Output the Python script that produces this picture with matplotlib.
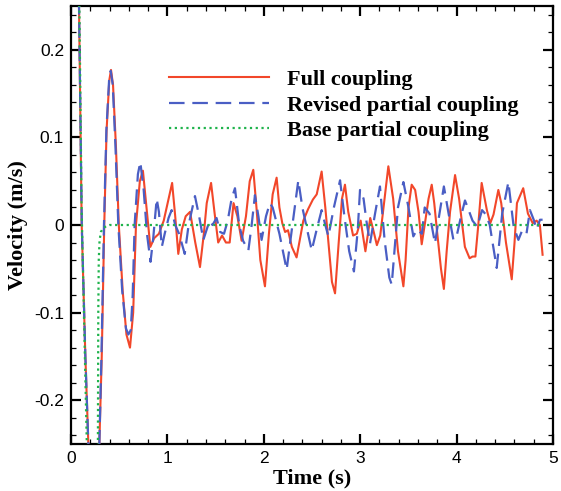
import matplotlib
matplotlib.use("Agg")
import matplotlib.pyplot as plt
from matplotlib.ticker import MultipleLocator, FixedLocator, FixedFormatter

plt.rcParams['axes.unicode_minus'] = False

# ---- data ----
t_full = [0.000, 0.040, 0.083, 0.111, 0.149, 0.180, 0.208, 0.238, 0.263, 0.294,
          0.319, 0.345, 0.369, 0.397, 0.415, 0.436, 0.466, 0.496, 0.536, 0.575,
          0.612, 0.645, 0.674, 0.714, 0.746, 0.783, 0.823, 0.863, 0.912, 0.962,
          1.012, 1.049, 1.081, 1.113, 1.150, 1.190, 1.235, 1.289, 1.338, 1.378,
          1.408, 1.453, 1.488, 1.527, 1.567, 1.607, 1.646, 1.686, 1.726, 1.770,
          1.815, 1.854, 1.891, 1.924, 1.964, 2.012, 2.053, 2.092, 2.133, 2.162,
          2.192, 2.221, 2.251, 2.291, 2.340, 2.410, 2.459, 2.509, 2.549, 2.600,
          2.638, 2.678, 2.707, 2.739, 2.777, 2.811, 2.842, 2.876, 2.926, 2.965,
          3.005, 3.054, 3.104, 3.134, 3.173, 3.208, 3.240, 3.292, 3.342, 3.392,
          3.448, 3.471, 3.501, 3.534, 3.570, 3.605, 3.638, 3.669, 3.709, 3.742,
          3.768, 3.798, 3.838, 3.868, 3.897, 3.932, 3.984, 4.026, 4.086, 4.135,
          4.165, 4.195, 4.225, 4.260, 4.314, 4.349, 4.383, 4.433, 4.463, 4.512,
          4.572, 4.601, 4.626, 4.691, 4.740, 4.790, 4.830, 4.864, 4.892]
v_full = [0.950, 0.620, 0.250, 0.000, -0.150, -0.250, -0.320, -0.330, -0.290, -0.250,
          -0.150, 0.000, 0.108, 0.165, 0.177, 0.160, 0.090, 0.000, -0.075, -0.125,
          -0.140, -0.100, 0.000, 0.050, 0.062, 0.020, -0.025, -0.015, -0.010, 0.005,
          0.030, 0.048, 0.010, -0.033, -0.005, 0.010, 0.015, -0.020, -0.048, -0.010,
          0.025, 0.048, 0.015, -0.020, -0.012, -0.020, -0.020, 0.025, 0.010, -0.018,
          0.010, 0.050, 0.063, 0.020, -0.040, -0.070, -0.010, 0.035, 0.054, 0.020,
          0.002, -0.008, -0.006, -0.025, -0.037, 0.005, 0.018, 0.029, 0.035, 0.061,
          0.020, -0.030, -0.065, -0.078, -0.020, 0.030, 0.046, 0.015, -0.012, -0.010,
          0.005, -0.030, 0.008, -0.005, -0.023, -0.012, 0.018, 0.067, 0.030, -0.030,
          -0.070, -0.040, 0.020, 0.046, 0.040, 0.015, -0.022, 0.000, 0.030, 0.046,
          0.025, -0.008, -0.050, -0.073, -0.030, 0.015, 0.057, 0.030, -0.025, -0.038,
          -0.036, -0.036, 0.000, 0.048, 0.017, 0.002, 0.012, 0.040, 0.025, -0.020,
          -0.062, -0.020, 0.025, 0.042, 0.013, 0.002, 0.005, 0.000, -0.034]

t_rev = [0.000, 0.040, 0.083, 0.112, 0.149, 0.180, 0.208, 0.238, 0.263, 0.294,
         0.315, 0.342, 0.367, 0.395, 0.412, 0.433, 0.461, 0.491, 0.531, 0.570,
         0.595, 0.620, 0.640, 0.660, 0.694, 0.719, 0.754, 0.788, 0.825, 0.853,
         0.889, 0.912, 0.942, 0.972, 1.012, 1.044, 1.081, 1.121, 1.180, 1.220,
         1.286, 1.329, 1.373, 1.408, 1.438, 1.468, 1.510, 1.547, 1.587, 1.626,
         1.666, 1.701, 1.745, 1.785, 1.840, 1.874, 1.908, 1.944, 1.977, 2.023,
         2.063, 2.092, 2.162, 2.237, 2.291, 2.358, 2.400, 2.459, 2.497, 2.549,
         2.600, 2.638, 2.670, 2.727, 2.791, 2.836, 2.886, 2.935, 2.975, 2.998,
         3.035, 3.064, 3.102, 3.154, 3.205, 3.253, 3.302, 3.327, 3.392, 3.448,
         3.501, 3.551, 3.590, 3.640, 3.669, 3.719, 3.776, 3.818, 3.868, 3.917,
         3.967, 4.006, 4.046, 4.087, 4.125, 4.165, 4.215, 4.264, 4.304, 4.344,
         4.373, 4.416, 4.473, 4.537, 4.592, 4.641, 4.681, 4.725, 4.761, 4.800,
         4.830, 4.865, 4.892]
v_rev = [0.950, 0.620, 0.250, 0.000, -0.150, -0.250, -0.320, -0.330, -0.290, -0.250,
         -0.154, 0.000, 0.108, 0.165, 0.176, 0.160, 0.090, 0.000, -0.075, -0.118,
         -0.125, -0.120, -0.080, 0.000, 0.058, 0.072, 0.040, -0.010, -0.042, -0.015,
         0.030, 0.015, -0.025, -0.010, 0.008, 0.017, 0.000, -0.010, -0.033, 0.000,
         0.033, 0.010, -0.017, -0.005, 0.005, 0.000, 0.008, -0.008, -0.010, 0.005,
         0.030, 0.042, 0.000, -0.018, -0.029, 0.000, 0.034, 0.010, -0.017, 0.010,
         0.025, 0.020, -0.010, -0.051, -0.005, 0.051, 0.020, -0.010, -0.029, -0.005,
         0.017, 0.000, -0.013, 0.020, 0.051, 0.010, -0.030, -0.053, -0.005, 0.040,
         0.030, 0.005, -0.021, 0.013, 0.044, -0.017, -0.060, -0.068, 0.020, 0.049,
         0.020, -0.013, -0.005, -0.010, 0.020, 0.013, -0.021, 0.010, 0.044, 0.013,
         -0.017, -0.010, 0.010, 0.028, 0.017, 0.005, -0.002, 0.017, 0.012, 0.000,
         -0.020, -0.049, 0.013, 0.049, -0.002, -0.017, -0.006, -0.010, 0.017, 0.006,
         -0.005, 0.006, 0.006]

t_base = [0.000, 0.050, 0.087, 0.110, 0.164, 0.200, 0.240, 0.265, 0.279, 0.283,
          0.288, 0.296, 0.310, 0.330, 0.370, 0.400, 4.892]
v_base = [0.900, 0.550, 0.250, 0.020, -0.250, -0.380, -0.400, -0.330, -0.250, -0.100,
          -0.040, -0.018, -0.008, -0.004, -0.001, 0.000, 0.000]

labels = ["Full coupling", "Revised partial coupling", "Base partial coupling"]
x_ticks = [0, 1, 2, 3, 4, 5]
y_ticks = [-0.2, -0.1, 0.0, 0.1, 0.2]
y_tick_labels = ["-0.2", "-0.1", "0", "0.1", "0.2"]

# ---- figure ----
fig = plt.figure(figsize=(5.61, 4.91), dpi=100)
ax = fig.add_axes([71 / 561, 1 - 444 / 491, (553 - 71) / 561, (444 - 6) / 491])

ax.plot(t_full, v_full, color='#f2472a', lw=1.5, label=labels[0], zorder=3,
        solid_joinstyle='round')
ax.plot(t_rev, v_rev, color='#4a5ec4', lw=1.6, dashes=(7, 3.5), label=labels[1], zorder=4,
        dash_joinstyle='round')
ax.plot(t_base, v_base, color='#1fb34c', lw=1.6, ls=(0, (1, 1.6)), label=labels[2], zorder=5)

ax.set_xlim(0, 5)
ax.set_ylim(-0.25, 0.25)
ax.xaxis.set_major_locator(FixedLocator(x_ticks))
ax.yaxis.set_major_locator(FixedLocator(y_ticks))
ax.yaxis.set_major_formatter(FixedFormatter(y_tick_labels))
ax.xaxis.set_minor_locator(MultipleLocator(0.2))
ax.yaxis.set_minor_locator(MultipleLocator(0.02))
ax.tick_params(which='both', direction='in', top=True, right=True, width=1.3,
               labelsize=12.5, pad=5)
ax.tick_params(which='major', length=7, width=1.6)
ax.tick_params(which='minor', length=3.5, width=0.9)
for lab in ax.get_xticklabels() + ax.get_yticklabels():
    lab.set_family('Liberation Sans')
for s in ax.spines.values():
    s.set_linewidth(1.6)

ax.set_xlabel("Time (s)", family='Liberation Serif', weight='bold', fontsize=16, labelpad=2)
ax.set_ylabel("Velocity (m/s)", family='Liberation Serif', weight='bold', fontsize=16, labelpad=4)

leg = ax.legend(loc='upper left', bbox_to_anchor=(0.185, 0.875), frameon=False,
                prop={'family': 'Liberation Serif', 'weight': 'bold', 'size': 16},
                handlelength=4.5, handletextpad=0.8, labelspacing=0.22, borderaxespad=0)

fig.savefig("out.png", dpi=100)
